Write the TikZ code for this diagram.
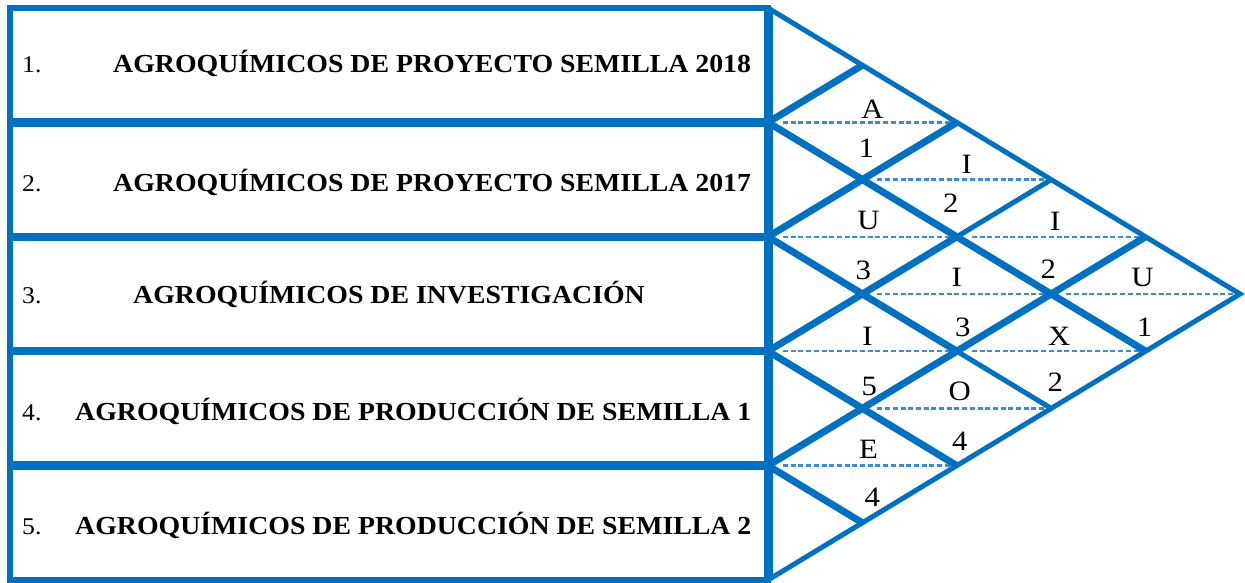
\documentclass[tikz,border=0pt]{standalone}
\usepackage{fontspec}
\setmainfont{Liberation Serif}
\usepackage{tikz}
\definecolor{wordblue}{HTML}{0070C0}
\definecolor{dashblue}{HTML}{3A8AD8}

\begin{document}
\begin{tikzpicture}[
    x=1pt, y=-1pt,
    rim/.style={draw=wordblue, line width=5pt, line join=miter},
    heavy/.style={draw=wordblue, line width=7pt},
    light/.style={draw=wordblue, line width=5pt},
    midline/.style={draw=dashblue, line width=2.5pt, dash pattern=on 5pt off 2.7pt},
    rowtext/.style={anchor=base west, inner sep=0pt, font=\bfseries\fontsize{26}{28}\selectfont, xscale=1.07},
    rownum/.style={anchor=base west, inner sep=0pt, font=\fontsize{24}{26}\selectfont, xscale=1.07},
    cell/.style={inner sep=0pt, font=\fontsize{28}{30}\selectfont, xscale=1.1}
    ]
    \useasboundingbox (0,0) rectangle (1245,583);

    % Grid points (row r, column c)
    \coordinate (p0-0) at (768,8);
    \coordinate (p2-0) at (768,122.4);
    \coordinate (p4-0) at (768,236.8);
    \coordinate (p6-0) at (768,351.2);
    \coordinate (p8-0) at (768,465.6);
    \coordinate (p10-0) at (768,580);
    \coordinate (p1-1) at (862.4,65.2);
    \coordinate (p3-1) at (862.4,179.6);
    \coordinate (p5-1) at (862.4,294);
    \coordinate (p7-1) at (862.4,408.4);
    \coordinate (p9-1) at (862.4,522.8);
    \coordinate (p2-2) at (956.8,122.4);
    \coordinate (p4-2) at (956.8,236.8);
    \coordinate (p6-2) at (956.8,351.2);
    \coordinate (p8-2) at (956.8,465.6);
    \coordinate (p3-3) at (1051.2,179.6);
    \coordinate (p5-3) at (1051.2,294);
    \coordinate (p7-3) at (1051.2,408.4);
    \coordinate (p4-4) at (1145.6,236.8);
    \coordinate (p6-4) at (1145.6,351.2);
    \coordinate (p5-5) at (1240,294);

    % Cell centres (pair of rows)
    \coordinate (c12) at (862.4,122.4);
    \coordinate (c13) at (956.8,179.6);
    \coordinate (c14) at (1051.2,236.8);
    \coordinate (c15) at (1145.6,294);
    \coordinate (c23) at (862.4,236.8);
    \coordinate (c24) at (956.8,294);
    \coordinate (c25) at (1051.2,351.2);
    \coordinate (c34) at (862.4,351.2);
    \coordinate (c35) at (956.8,408.4);
    \coordinate (c45) at (862.4,465.6);

    % Table on the left
    \draw[wordblue, line width=6.5pt] (10,8) rectangle (p10-0);
    \draw[wordblue, line width=8.5pt] (10,122.4) -- (p2-0);
    \draw[wordblue, line width=8.5pt] (10,236.8) -- (p4-0);
    \draw[wordblue, line width=8.5pt] (10,351.2) -- (p6-0);
    \draw[wordblue, line width=8.5pt] (10,465.6) -- (p8-0);
    \draw[wordblue, line width=9pt] (p0-0) -- (p10-0);

    % Row labels
    \node[rownum] (n1) at (22,73) {1.};
    \node[rowtext] (t1) at (113,73) {AGROQUÍMICOS DE PROYECTO SEMILLA 2018};
    \node[rownum] (n2) at (22,191) {2.};
    \node[rowtext] (t2) at (113,191) {AGROQUÍMICOS DE PROYECTO SEMILLA 2017};
    \node[rownum] (n3) at (22,303.5) {3.};
    \node[rowtext] (t3) at (133,303.5) {AGROQUÍMICOS DE INVESTIGACIÓN};
    \node[rownum] (n4) at (22,420) {4.};
    \node[rowtext] (t4) at (75,420) {AGROQUÍMICOS DE PRODUCCIÓN DE SEMILLA 1};
    \node[rownum] (n5) at (22,534.5) {5.};
    \node[rowtext] (t5) at (75,534.5) {AGROQUÍMICOS DE PRODUCCIÓN DE SEMILLA 2};

    % Roof outline
    \draw[rim] (p0-0) -- (p5-5) -- (p10-0);

    % Dashed middle lines of the cells
    \draw[midline] ([xshift=15pt]p2-0) -- ([xshift=-6pt]p2-2);
    \draw[midline] ([xshift=15pt]p3-1) -- ([xshift=-6pt]p3-3);
    \draw[midline] ([xshift=15pt]p4-2) -- ([xshift=-6pt]p4-4);
    \draw[midline] ([xshift=15pt]p5-3) -- ([xshift=-6pt]p5-5);
    \draw[midline] ([xshift=15pt]p4-0) -- ([xshift=-6pt]p4-2);
    \draw[midline] ([xshift=15pt]p5-1) -- ([xshift=-6pt]p5-3);
    \draw[midline] ([xshift=15pt]p6-2) -- ([xshift=-6pt]p6-4);
    \draw[midline] ([xshift=15pt]p6-0) -- ([xshift=-6pt]p6-2);
    \draw[midline] ([xshift=15pt]p7-1) -- ([xshift=-6pt]p7-3);
    \draw[midline] ([xshift=15pt]p8-0) -- ([xshift=-6pt]p8-2);

    % Lines going up to the right
    \draw[heavy] (p2-0) -- (p1-1);
    \draw[heavy] (p4-0) -- (p3-1) -- (p2-2);
    \draw[heavy] (p6-0) -- (p5-1) -- (p4-2);
    \draw[light] (p4-2) -- (p3-3);
    \draw[heavy] (p8-0) -- (p7-1) -- (p6-2) -- (p5-3) -- (p4-4);

    % Lines going down to the right
    \draw[heavy] (p2-0) -- (p3-1) -- (p4-2) -- (p5-3) -- (p6-4);
    \draw[heavy] (p4-0) -- (p5-1) -- (p6-2);
    \draw[light] (p6-2) -- (p7-3);
    \draw[heavy] (p6-0) -- (p7-1) -- (p8-2);
    \draw[heavy] (p8-0) -- (p9-1);

    % Cell labels
    \node[cell] (a12) at ([xshift=10pt,yshift=13pt]c12) {A};
    \node[cell] (b12) at ([xshift=4pt,yshift=-26pt]c12) {1};
    \node[cell] (a13) at ([xshift=10pt,yshift=15pt]c13) {I};
    \node[cell] (b13) at ([xshift=-6pt,yshift=-24pt]c13) {2};
    \node[cell] (a14) at ([xshift=4pt,yshift=15pt]c14) {I};
    \node[cell] (b14) at ([xshift=-3pt,yshift=-32pt]c14) {2};
    \node[cell] (a15) at ([xshift=-3pt,yshift=17pt]c15) {U};
    \node[cell] (b15) at ([xshift=-1pt,yshift=-33pt]c15) {1};
    \node[cell] (a23) at ([xshift=6pt,yshift=16pt]c23) {U};
    \node[cell] (b23) at ([xshift=1pt,yshift=-34pt]c23) {3};
    \node[cell] (a24) at ([xshift=0pt,yshift=17pt]c24) {I};
    \node[cell] (b24) at ([xshift=6pt,yshift=-33pt]c24) {3};
    \node[cell] (a25) at ([xshift=8pt,yshift=15pt]c25) {X};
    \node[cell] (b25) at ([xshift=4pt,yshift=-31pt]c25) {2};
    \node[cell] (a34) at ([xshift=5pt,yshift=15pt]c34) {I};
    \node[cell] (b34) at ([xshift=7pt,yshift=-35pt]c34) {5};
    \node[cell] (a35) at ([xshift=3pt,yshift=17pt]c35) {O};
    \node[cell] (b35) at ([xshift=3pt,yshift=-33pt]c35) {4};
    \node[cell] (a45) at ([xshift=6pt,yshift=16pt]c45) {E};
    \node[cell] (b45) at ([xshift=10pt,yshift=-32pt]c45) {4};
\end{tikzpicture}
\end{document}
